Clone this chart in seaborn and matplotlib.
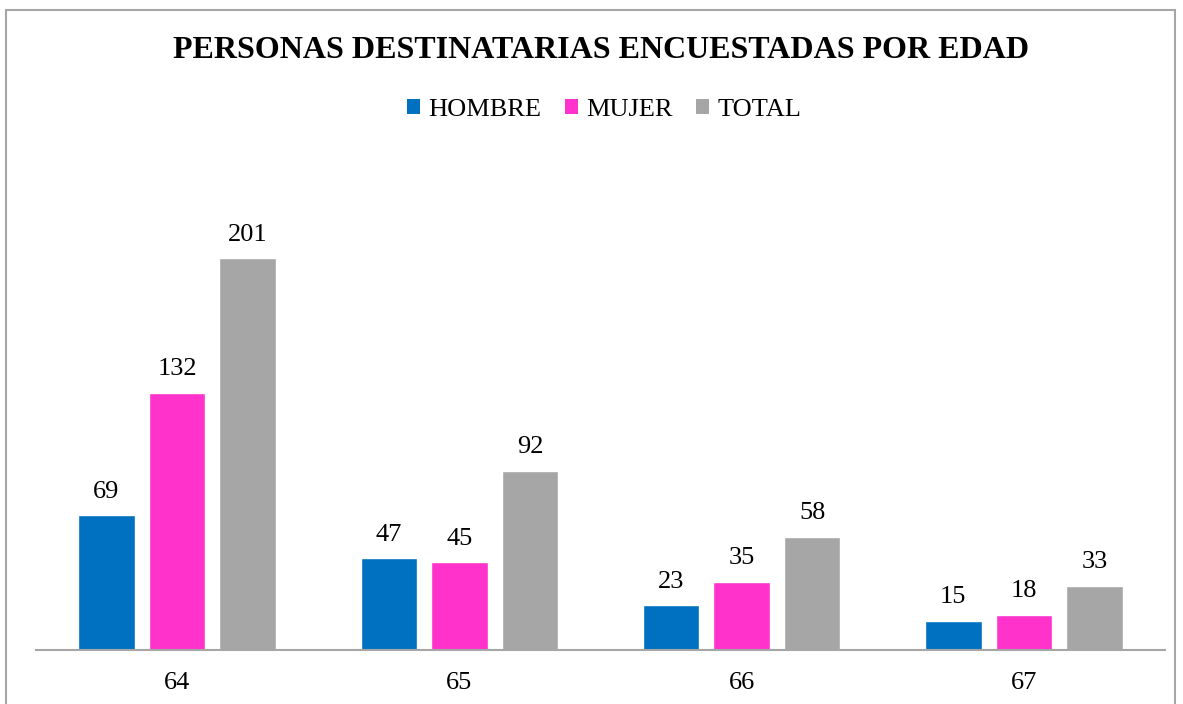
import matplotlib
matplotlib.use("Agg")
import matplotlib.pyplot as plt
import seaborn as sns
import pandas as pd
from matplotlib.patches import Rectangle

edades = ["64", "65", "66", "67"]
hombre = [69, 47, 23, 15]
mujer = [132, 45, 35, 18]
total = [201, 92, 58, 33]
series = ["HOMBRE", "MUJER", "TOTAL"]
colores = ["#0070C0", "#FF33CC", "#A6A6A6"]
titulo = "PERSONAS DESTINATARIAS ENCUESTADAS POR EDAD"

rows = []
for nombre, vals in zip(series, [hombre, mujer, total]):
    for e, v in zip(edades, vals):
        rows.append({"edad": e, "valor": v, "grupo": nombre})
df = pd.DataFrame(rows)

sns.set_style("white")
plt.rcParams["font.family"] = ["Liberation Serif", "DejaVu Serif"]
plt.rcParams["text.color"] = "black"

fig = plt.figure(figsize=(11.83, 7.04), dpi=100)
ax = fig.add_axes([36 / 1183, 54 / 704, (1165 - 36) / 1183, (650 - 162.5) / 704])

sns.barplot(data=df, x="edad", y="valor", hue="grupo", order=edades,
            hue_order=series, palette=colores, width=0.75, gap=0.2,
            saturation=1, errorbar=None, ax=ax, legend=False)

ax.set_xlim(-0.5, 3.5)
ax.set_ylim(0, 250)
ax.set_xlabel("")
ax.set_ylabel("")
ax.set_yticks([])
for s in ["left", "top", "right"]:
    ax.spines[s].set_visible(False)
ax.spines["bottom"].set_color("#A6A6A6")
ax.spines["bottom"].set_linewidth(1.5)
ax.tick_params(axis="x", length=0, pad=16, labelsize=19, colors="black")

for cont in ax.containers:
    ax.bar_label(cont, padding=9, fontsize=19, color="black")

handles = [Rectangle((0, 0), 1, 1, facecolor=c, edgecolor="none") for c in colores]
leg = fig.legend(handles, series, loc="center", bbox_to_anchor=(604 / 1183, 1 - 110 / 704),
                 ncol=3, frameon=False, fontsize=19, handlelength=0.5, handleheight=0.5,
                 handletextpad=0.3, columnspacing=0.9, labelcolor="black")

fig.text(601 / 1183, 1 - 51 / 704, titulo, ha="center", va="center",
         fontsize=23, fontweight="bold", color="black")

border = Rectangle((6 / 1183, -0.05), (1175 - 6) / 1183, 1.05 - 10 / 704,
                   transform=fig.transFigure, facecolor="none",
                   edgecolor="#A6A6A6", linewidth=1.5)
fig.patches.append(border)

fig.savefig("out.png", dpi=100)
